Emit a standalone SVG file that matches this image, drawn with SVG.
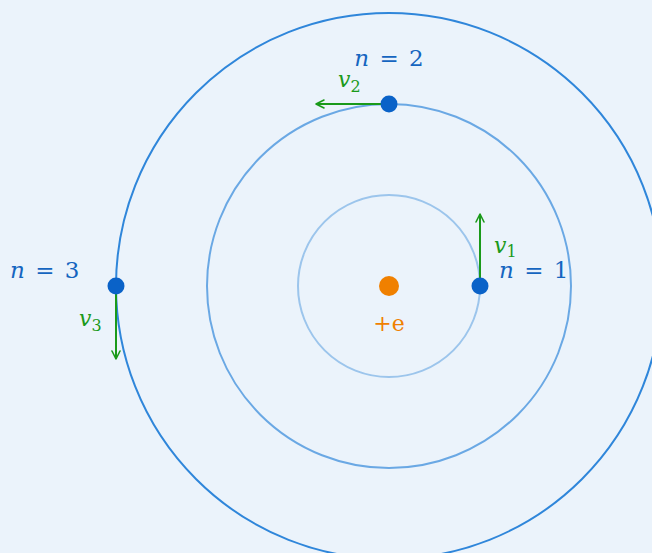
<svg xmlns="http://www.w3.org/2000/svg" width="652" height="553" viewBox="0 0 652 553">
<defs>
<marker id="ah" viewBox="0 0 10 10" refX="9" refY="5" markerWidth="10" markerHeight="10" markerUnits="userSpaceOnUse" orient="auto">
<path d="M1,1 L9,5 L1,9" fill="none" stroke="#1a9a1a" stroke-width="1.6" stroke-linecap="round" stroke-linejoin="round"/>
</marker>
</defs>
<style>
.orbit{fill:none;stroke-width:2}
.el{fill:#0a62c8}
.lbl{font-family:"DejaVu Serif","Liberation Serif",serif;font-size:23px;fill:#1565c0;word-spacing:3px}
.v{font-family:"DejaVu Serif","Liberation Serif",serif;font-size:22px;fill:#1a9a1a;font-style:italic}
.sub{font-size:16px;font-style:normal}
.arr{stroke:#1a9a1a;stroke-width:2;fill:none;marker-end:url(#ah)}
</style>
<rect width="652" height="553" fill="#ebf3fb"/>
<g id="orbits">
<circle id="orbit1" class="orbit" cx="389" cy="286" r="91" stroke="#9cc5ec"/>
<circle id="orbit2" class="orbit" cx="389" cy="286" r="182" stroke="#6aa8e4"/>
<circle id="orbit3" class="orbit" cx="389" cy="286" r="273" stroke="#2f86da"/>
</g>
<g id="connectors">
<line class="arr" x1="389" y1="104" x2="316" y2="104"/>
<line class="arr" x1="480" y1="286" x2="480" y2="214"/>
<line class="arr" x1="116" y1="286" x2="116" y2="359"/>
</g>
<g id="nucleus">
<circle cx="389" cy="286" r="10" fill="#f08000"/>
<text x="389" y="331" text-anchor="middle" font-family="DejaVu Serif, Liberation Serif, serif" font-size="22" fill="#f08000">+e</text>
</g>
<g id="electron1">
<circle class="el" cx="480" cy="286" r="8.5"/>
<text class="lbl" x="499" y="278"><tspan font-style="italic">n</tspan> = 1</text>
<text class="v" x="494" y="253">v<tspan class="sub" dy="4">1</tspan></text>
</g>
<g id="electron2">
<circle class="el" cx="389" cy="104" r="8.5"/>
<text class="lbl" x="389" y="66" text-anchor="middle"><tspan font-style="italic">n</tspan> = 2</text>
<text class="v" x="338" y="87">v<tspan class="sub" dy="5">2</tspan></text>
</g>
<g id="electron3">
<circle class="el" cx="116" cy="286" r="8.5"/>
<text class="lbl" x="10" y="278"><tspan font-style="italic">n</tspan> = 3</text>
<text class="v" x="79" y="326">v<tspan class="sub" dy="5">3</tspan></text>
</g>
</svg>
